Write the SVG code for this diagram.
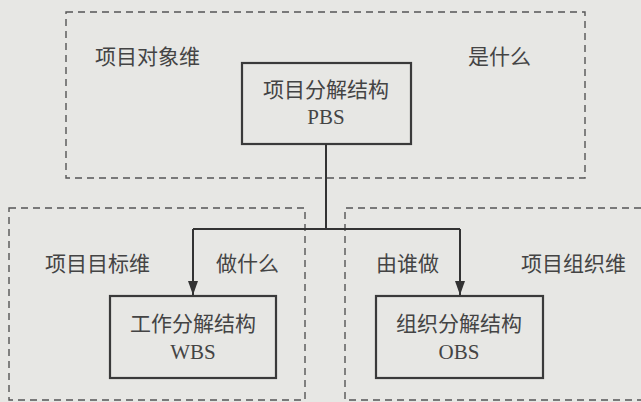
<svg xmlns="http://www.w3.org/2000/svg" width="641" height="402" viewBox="0 0 641 402">
<style>
.dash{fill:none;stroke:#555;stroke-width:1.4;stroke-dasharray:7,5}
.box{fill:none;stroke:#3a3a3a;stroke-width:2.2}
.t{font-family:"Liberation Serif","Noto Sans CJK SC",serif;font-size:21px;fill:#444}
.c{text-anchor:middle}
.ln{fill:none;stroke:#333;stroke-width:2}
</style>
<defs>
<marker id="ah" viewBox="0 0 14 10" refX="14" refY="5" markerWidth="14" markerHeight="10" markerUnits="userSpaceOnUse" orient="auto">
<path d="M0,0 L14,5 L0,10 Z" fill="#333"/>
</marker>
</defs>
<rect x="0" y="0" width="641" height="402" fill="#e7e7e4"/>
<g id="dim-object">
<rect class="dash" x="66" y="12" width="519" height="166"/>
<text class="t" x="95" y="64">项目对象维</text>
<text class="t" x="468" y="64">是什么</text>
</g>
<g id="dim-goal">
<rect class="dash" x="9" y="208" width="296" height="192"/>
<text class="t" x="45" y="271">项目目标维</text>
<text class="t" x="216" y="271">做什么</text>
</g>
<g id="dim-org">
<path class="dash" d="M641,208 L345,208 L345,400 L641,400"/>
<text class="t" x="376" y="271">由谁做</text>
<text class="t" x="521" y="271">项目组织维</text>
</g>
<g id="pbs">
<rect class="box" x="242" y="63" width="169" height="81"/>
<text class="t c" x="326" y="97">项目分解结构</text>
<text class="t c" x="326" y="124">PBS</text>
</g>
<g id="wbs">
<rect class="box" x="110" y="296" width="166" height="82"/>
<text class="t c" x="193" y="331">工作分解结构</text>
<text class="t c" x="193" y="359">WBS</text>
</g>
<g id="obs">
<rect class="box" x="376" y="296" width="167" height="82"/>
<text class="t c" x="459" y="331">组织分解结构</text>
<text class="t c" x="459" y="359">OBS</text>
</g>
<g id="connectors">
<path class="ln" d="M326,144 L326,229"/>
<path class="ln" d="M193,229 L460,229"/>
<path class="ln" d="M193,229 L193,295" marker-end="url(#ah)"/>
<path class="ln" d="M460,229 L460,295" marker-end="url(#ah)"/>
</g>
</svg>
